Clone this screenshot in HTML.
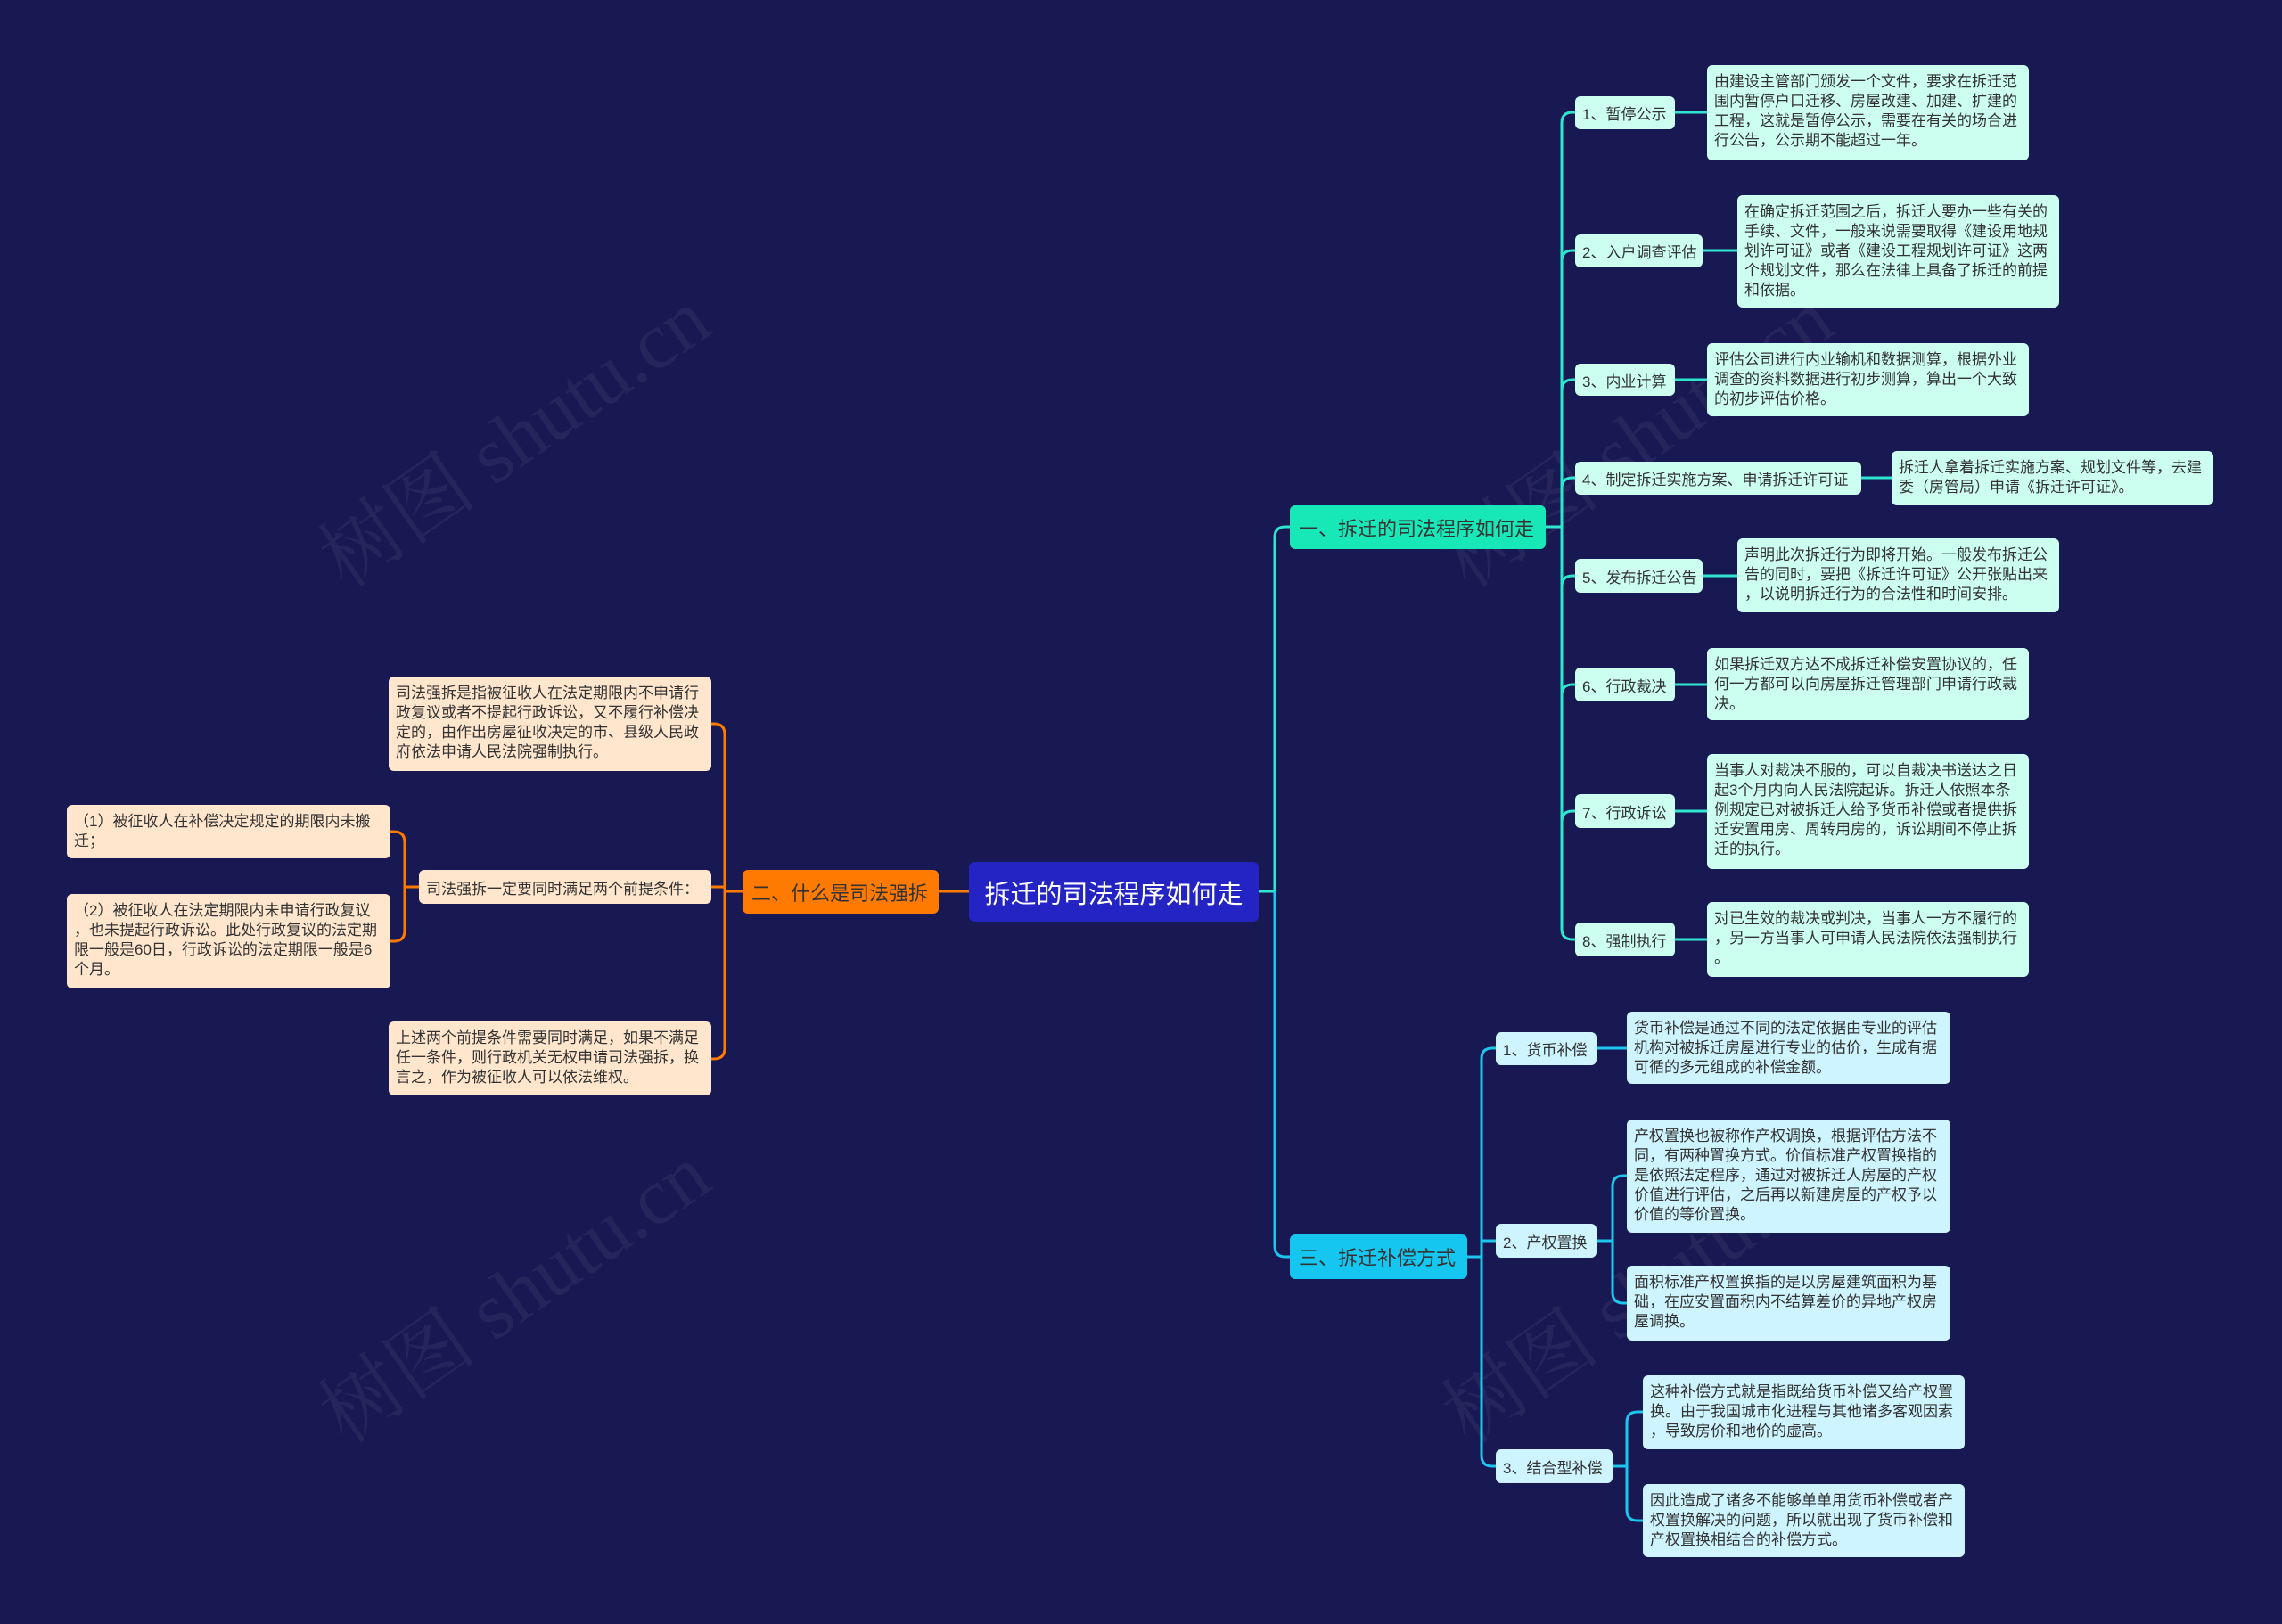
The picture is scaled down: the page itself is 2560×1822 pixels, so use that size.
<!DOCTYPE html>
<html><head><meta charset="utf-8"><style>
body{margin:0;width:2560px;height:1822px;background:#181852;position:relative;overflow:hidden;font-family:"Liberation Sans","Noto Sans CJK SC",sans-serif;}
.n{position:absolute;box-sizing:border-box;border-radius:6px;display:flex;align-items:center;white-space:nowrap;}
.d{position:absolute;box-sizing:border-box;border-radius:6px;font-size:17px;line-height:22px;padding:8px 6px 7px 8px;color:#333;word-break:break-all;line-break:anywhere;}
.t{background:#ccfff0;color:#333;}
.c{background:#cdf4ff;color:#333;}
.o{background:#ffe6cc;color:#333;}
.s{font-size:17px;padding:0 8px;}
.wm{position:absolute;font-size:90px;color:rgba(255,255,255,0.06);transform:rotate(-35deg);white-space:nowrap;font-family:"Liberation Serif","Noto Serif CJK SC",serif;}
svg{position:absolute;left:0;top:0}
</style></head><body>
<div class="wm" style="left:320px;top:420px">树图 shutu.cn</div>
<div class="wm" style="left:320px;top:1380px">树图 shutu.cn</div>
<div class="wm" style="left:1580px;top:420px">树图 shutu.cn</div>
<div class="wm" style="left:1580px;top:1380px">树图 shutu.cn</div>
<svg width="2560" height="1822" fill="none" stroke-width="3">
<g stroke="#2ee6d0">
<path d="M1412 1000 H1430 M1430 1000 V603 Q1430 591 1442 591 H1447"/>
<path d="M1734 591 H1752"/>
<path d="M1752 138 V1042"/>
<path d="M1752 138 Q1752 126 1764 126 H1767 M1752 293 Q1752 281 1764 281 H1767 M1752 438 Q1752 426 1764 426 H1767 M1752 548 Q1752 536 1764 536 H1767 M1752 658 Q1752 646 1764 646 H1767 M1752 780 Q1752 768 1764 768 H1767 M1752 922 Q1752 910 1764 910 H1767 M1752 1042 Q1752 1054 1764 1054 H1767"/>
<path d="M1879 126 H1915 M1910 281 H1949 M1879 426 H1915 M2088 536 H2122 M1910 646 H1949 M1879 768 H1915 M1879 910 H1915 M1879 1054 H1915"/>
</g>
<g stroke="#1cc6ee">
<path d="M1430 1000 V1398 Q1430 1410 1442 1410 H1447"/>
<path d="M1646 1410 H1662 M1662 1188 V1633 M1662 1188 Q1662 1176 1674 1176 H1678 M1662 1392 H1678 M1662 1633 Q1662 1645 1674 1645 H1678"/>
<path d="M1791 1176 H1825 M1791 1392 H1809 M1809 1331 V1450 M1809 1331 Q1809 1319 1821 1319 H1825 M1809 1450 Q1809 1462 1821 1462 H1825"/>
<path d="M1809 1645 H1825 M1825 1596 V1694 M1825 1596 Q1825 1584 1837 1584 H1843 M1825 1694 Q1825 1706 1837 1706 H1843"/>
</g>
<g stroke="#ff7a00">
<path d="M1087 1000 H1053 M833 1000 H813 M813 824 V1176 M813 824 Q813 812 801 812 H798 M813 995 H798 M813 1176 Q813 1188 801 1188 H798"/>
<path d="M470 995 H454 M454 945 V1044 M454 945 Q454 933 442 933 H438 M454 1044 Q454 1056 442 1056 H438"/>
</g>
</svg>
<div class="n" style="left:1087px;top:967px;width:325px;height:67px;background:#2424c4;color:#fff;font-size:29px;justify-content:center">拆迁的司法程序如何走</div>
<div class="n" style="left:1447px;top:567px;width:287px;height:49px;background:#18e8b8;color:#333;font-size:22px;padding-left:10px">一、拆迁的司法程序如何走</div>
<div class="n" style="left:833px;top:976px;width:220px;height:49px;background:#ff7a00;color:#333;font-size:22px;padding-left:10px">二、什么是司法强拆</div>
<div class="n" style="left:1447px;top:1385px;width:199px;height:50px;background:#14c6f0;color:#333;font-size:22px;padding-left:10px">三、拆迁补偿方式</div>

<div class="n s t" style="left:1767px;top:108px;width:112px;height:37px">1、暂停公示</div>
<div class="d t" style="left:1915px;top:73px;width:361px;height:107px">由建设主管部门颁发一个文件，要求在拆迁范围内暂停户口迁移、房屋改建、加建、扩建的工程，这就是暂停公示，需要在有关的场合进行公告，公示期不能超过一年。</div>
<div class="n s t" style="left:1767px;top:263px;width:143px;height:37px">2、入户调查评估</div>
<div class="d t" style="left:1949px;top:219px;width:361px;height:126px">在确定拆迁范围之后，拆迁人要办一些有关的手续、文件，一般来说需要取得《建设用地规划许可证》或者《建设工程规划许可证》这两个规划文件，那么在法律上具备了拆迁的前提和依据。</div>
<div class="n s t" style="left:1767px;top:408px;width:112px;height:36px">3、内业计算</div>
<div class="d t" style="left:1915px;top:385px;width:361px;height:82px">评估公司进行内业输机和数据测算，根据外业调查的资料数据进行初步测算，算出一个大致的初步评估价格。</div>
<div class="n s t" style="left:1767px;top:518px;width:321px;height:37px">4、制定拆迁实施方案、申请拆迁许可证</div>
<div class="d t" style="left:2122px;top:506px;width:361px;height:61px">拆迁人拿着拆迁实施方案、规划文件等，去建委（房管局）申请《拆迁许可证》。</div>
<div class="n s t" style="left:1767px;top:627px;width:143px;height:38px">5、发布拆迁公告</div>
<div class="d t" style="left:1949px;top:604px;width:361px;height:83px">声明此次拆迁行为即将开始。一般发布拆迁公告的同时，要把《拆迁许可证》公开张贴出来，以说明拆迁行为的合法性和时间安排。</div>
<div class="n s t" style="left:1767px;top:749px;width:112px;height:38px">6、行政裁决</div>
<div class="d t" style="left:1915px;top:727px;width:361px;height:81px">如果拆迁双方达不成拆迁补偿安置协议的，任何一方都可以向房屋拆迁管理部门申请行政裁决。</div>
<div class="n s t" style="left:1767px;top:891px;width:112px;height:38px">7、行政诉讼</div>
<div class="d t" style="left:1915px;top:846px;width:361px;height:129px">当事人对裁决不服的，可以自裁决书送达之日起3个月内向人民法院起诉。拆迁人依照本条例规定已对被拆迁人给予货币补偿或者提供拆迁安置用房、周转用房的，诉讼期间不停止拆迁的执行。</div>
<div class="n s t" style="left:1767px;top:1035px;width:112px;height:38px">8、强制执行</div>
<div class="d t" style="left:1915px;top:1012px;width:361px;height:84px">对已生效的裁决或判决，当事人一方不履行的，另一方当事人可申请人民法院依法强制执行。</div>

<div class="n s c" style="left:1678px;top:1158px;width:113px;height:37px">1、货币补偿</div>
<div class="d c" style="left:1825px;top:1135px;width:363px;height:81px">货币补偿是通过不同的法定依据由专业的评估机构对被拆迁房屋进行专业的估价，生成有据可循的多元组成的补偿金额。</div>
<div class="n s c" style="left:1678px;top:1373px;width:113px;height:38px">2、产权置换</div>
<div class="d c" style="left:1825px;top:1256px;width:363px;height:127px">产权置换也被称作产权调换，根据评估方法不同，有两种置换方式。价值标准产权置换指的是依照法定程序，通过对被拆迁人房屋的产权价值进行评估，之后再以新建房屋的产权予以价值的等价置换。</div>
<div class="d c" style="left:1825px;top:1420px;width:363px;height:84px">面积标准产权置换指的是以房屋建筑面积为基础，在应安置面积内不结算差价的异地产权房屋调换。</div>
<div class="n s c" style="left:1678px;top:1626px;width:131px;height:38px">3、结合型补偿</div>
<div class="d c" style="left:1843px;top:1543px;width:361px;height:83px">这种补偿方式就是指既给货币补偿又给产权置换。由于我国城市化进程与其他诸多客观因素，导致房价和地价的虚高。</div>
<div class="d c" style="left:1843px;top:1665px;width:361px;height:82px">因此造成了诸多不能够单单用货币补偿或者产权置换解决的问题，所以就出现了货币补偿和产权置换相结合的补偿方式。</div>

<div class="d o" style="left:436px;top:759px;width:362px;height:106px">司法强拆是指被征收人在法定期限内不申请行政复议或者不提起行政诉讼，又不履行补偿决定的，由作出房屋征收决定的市、县级人民政府依法申请人民法院强制执行。</div>
<div class="n s o" style="left:470px;top:976px;width:328px;height:38px">司法强拆一定要同时满足两个前提条件：</div>
<div class="d o" style="left:75px;top:903px;width:363px;height:60px">（1）被征收人在补偿决定规定的期限内未搬迁；</div>
<div class="d o" style="left:75px;top:1003px;width:363px;height:106px">（2）被征收人在法定期限内未申请行政复议，也未提起行政诉讼。此处行政复议的法定期限一般是60日，行政诉讼的法定期限一般是6个月。</div>
<div class="d o" style="left:436px;top:1146px;width:362px;height:83px">上述两个前提条件需要同时满足，如果不满足任一条件，则行政机关无权申请司法强拆，换言之，作为被征收人可以依法维权。</div>
</body></html>
